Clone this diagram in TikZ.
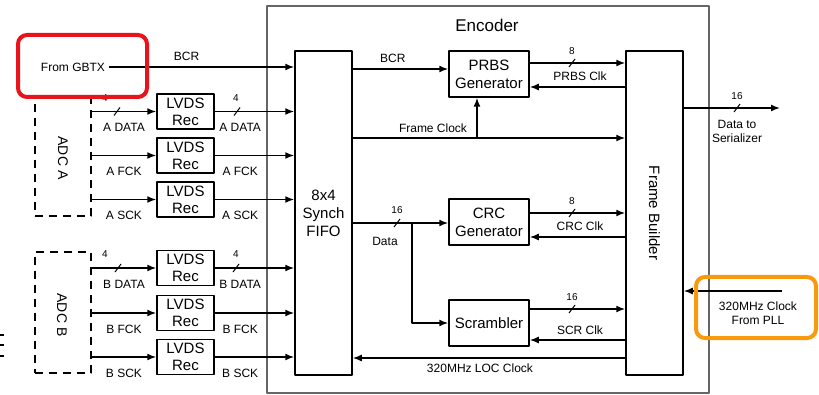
\documentclass[tikz,border=0pt]{standalone}
\usepackage{fontspec}
\setmainfont{Liberation Sans}
\usetikzlibrary{arrows.meta}
\definecolor{redbox}{HTML}{E8131B}
\definecolor{orangebox}{HTML}{F79A0E}
\tikzset{
  every picture/.style={line join=round, >={Latex[length=9pt,width=7pt]}},
  blk/.style={draw, line width=1.5pt, fill=white, align=center, inner sep=0pt, font=\fontsize{15}{18}\selectfont},
  lvds/.style={blk, minimum width=57pt, minimum height=35pt, font=\fontsize{15}{17}\selectfont},
  gen/.style={blk, minimum width=80pt, minimum height=46pt},
  tall/.style={blk, minimum width=57pt, minimum height=324pt},
  adc/.style={draw, dash pattern=on 8pt off 6pt, line width=1.5pt, minimum width=56pt, inner sep=0pt},
  wire/.style={line width=1.5pt},
  lbl/.style={font=\fontsize{12}{14}\selectfont, inner sep=1pt, align=center},
  lbldn/.style={lbl, yshift=-16pt},
  lblup/.style={lbl, yshift=11pt},
  num/.style={font=\fontsize{10}{11}\selectfont, inner sep=1pt},
  callout/.style={line width=4pt, rounded corners=9pt},
}
\newcommand{\busmark}[1]{\draw[line width=1pt] (#1) ++(-3,4) -- ++(6,-8);}

\begin{document}
\begin{tikzpicture}[x=1pt,y=-1pt]
\useasboundingbox (0,0) rectangle (819,395);
% encoder block
\draw[line width=2pt, black!60] (267,6) rectangle (709,393);
\node[font=\fontsize{17}{18}\selectfont] (enc) at (487,25) {Encoder};
\node[tall] (fifo) at (323.5,213) {8x4\\Synch\\FIFO};
\node[tall] (fb) at (654.5,213) {};
\node[rotate=-90, font=\fontsize{15}{16}\selectfont] (fblbl) at (fb) {Frame Builder};
\node[gen] (prbs) at (489,74) {PRBS\\Generator};
\node[gen] (crc) at (489,222) {CRC\\Generator};
\node[gen] (scr) at (489,323) {Scrambler};

% ADCs and receivers
\node[adc, minimum height=119pt] (adca) at (63,156.5) {};
\node[adc, minimum height=121pt] (adcb) at (63,312.5) {};
\node[rotate=-90, font=\fontsize{14}{16}\selectfont] (adcalbl) at (63,158) {ADC A};
\node[rotate=-90, font=\fontsize{14}{16}\selectfont] (adcblbl) at (62,315) {ADC B};
\foreach \n/\y/\t/\adc in {a1/111.5/A DATA/adca, a2/155.5/A FCK/adca, a3/199.5/A SCK/adca,
                          b1/268/B DATA/adcb, b2/313/B FCK/adcb, b3/357/B SCK/adcb} {
  \node[lvds] (\n) at (185.5,\y) {LVDS\\Rec};
  \draw[wire,->] (\adc.east |- \n) -- node[lbldn]{\t} (\n.west);
  \draw[wire,->] (\n.east) -- node[lbldn,pos=0.32]{\t} (fifo.west |- \n);
}
\busmark{117,111.5} \busmark{237,111.5}
\busmark{118,268} \busmark{236,268}
\node[num] (na1) at (105,98) {4};
\node[num] (na2) at (236,98) {4};
\node[num] (nb1) at (105,254) {4};
\node[num] (nb2) at (236,254) {4};

% BCR from GBTX
\node[font=\fontsize{12}{14}\selectfont] (gbtx) at (73,67) {From GBTX};
\draw[wire,->] (gbtx.east) -- node[lblup,pos=0.42]{BCR} (fifo.west |- gbtx.east);
\draw[wire,->] (fifo.east |- 0,69) -- node[lblup,pos=0.42]{BCR} (prbs.west |- 0,69);

% frame clock
\coordinate (fclk) at (477,138);
\draw[wire,->] (fifo.east |- fclk) -- (fb.west |- fclk);
\draw[wire,->] (fclk) -- (fclk |- prbs.south);
\node[lbl] (fclklbl) at (433,128) {Frame Clock};

% data bus
\coordinate (dsplit) at (412,223);
\draw[wire,->] (fifo.east |- dsplit) -- (crc.west |- dsplit);
\draw[wire,->] (dsplit) -- (dsplit |- scr) -- (scr.west);
\busmark{397,223}
\node[num] (ndata) at (397,210) {16};
\node[lbl] (datalbl) at (385,241) {Data};

% generators to frame builder
\foreach \g/\yo/\yi/\w/\t/\yt in {prbs/63/87/8/PRBS Clk/76, crc/213/237/8/CRC Clk/226, scr/309/340/16/SCR Clk/330} {
  \draw[wire,->] (\g.east |- 0,\yo) -- (fb.west |- 0,\yo);
  \draw[wire,->] (fb.west |- 0,\yi) -- (\g.east |- 0,\yi);
  \busmark{572,\yo}
  \node[num] at (572,\yo-12) {\w};
  \node[lbl] at (580,\yt) {\t};
}

% LOC clock back to FIFO
\draw[wire,->] (fb.west |- 0,358) -- (fifo.east |- 0,358);
\node[lbl] (loclbl) at (480,368) {320MHz LOC Clock};

% output and PLL clock
\coordinate (ser) at (780,108);
\draw[wire,->] (fb.east |- ser) -- (ser);
\busmark{737,108}
\node[num] (nser) at (737,96) {16};
\node[lbl, font=\fontsize{12}{14}\selectfont] (serlbl) at (737,131) {Data to\\Serializer};
\coordinate (pll) at (782,291);
\draw[wire,->] (pll) -- (fb.east |- pll);
\node[lbl] (plllbl) at (758,313) {320MHz Clock\\From PLL};

% marks at left edge
\foreach \y in {335,345,356} \draw[line width=1.5pt] (0,\y) -- (4,\y);

% highlight boxes
\draw[callout, redbox] (18,35) rectangle (147,97);
\draw[callout, orangebox] (696,277) rectangle (816,338);
\end{tikzpicture}
\end{document}
